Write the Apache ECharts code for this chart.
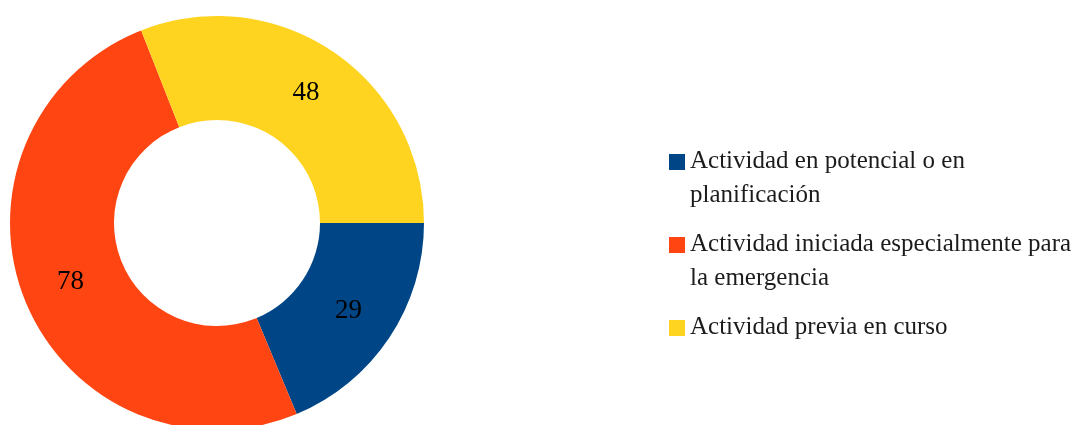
<!DOCTYPE html>
<html>
<head>
<meta charset="utf-8">
<script src="https://cdn.jsdelivr.net/npm/echarts@6/dist/echarts.min.js"></script>
<style>
html,body{margin:0;padding:0;background:#fff;}
#chart{width:1078px;height:425px;}
</style>
</head>
<body>
<div id="chart"></div>
<script>
var categories = [
  'Actividad en potencial o en planificación',
  'Actividad iniciada especialmente para la emergencia',
  'Actividad previa en curso'
];
var values = [29, 78, 48];
var colors = ['#004687', '#FF4512', '#FED421'];

var iconPath = 'path://M0,0L0.1,0L0,0Z M0,10L16,10L16,26L0,26Z M0,68L0.1,68L0,68Z';

var chart = echarts.init(document.getElementById('chart'));
chart.setOption({
  animation: false,
  legend: {
    orient: 'vertical',
    left: 669,
    top: 144,
    padding: 0,
    itemWidth: 16,
    itemHeight: 68,
    itemGap: 15,
    data: categories.map(function (c) { return { name: c, icon: iconPath }; }),
    formatter: function (name) {
      return name === categories[2] ? name + '\n\u00a0' : name;
    },
    textStyle: {
      fontFamily: 'Liberation Serif',
      fontSize: 25,
      color: '#1c1c1c',
      width: 395,
      overflow: 'break',
      lineHeight: 34
    }
  },
  series: [{
    type: 'pie',
    center: [217, 223],
    radius: [103, 207],
    startAngle: 0,
    clockwise: true,
    avoidLabelOverlap: false,
    label: {
      show: true,
      position: 'inside',
      formatter: '{c}',
      fontFamily: 'Liberation Serif',
      fontSize: 27,
      color: '#000'
    },
    labelLine: { show: false },
    emphasis: { disabled: true },
    itemStyle: { borderWidth: 0 },
    data: categories.map(function (c, i) {
      return { name: c, value: values[i], itemStyle: { color: colors[i] } };
    })
  }]
});
</script>
</body>
</html>
